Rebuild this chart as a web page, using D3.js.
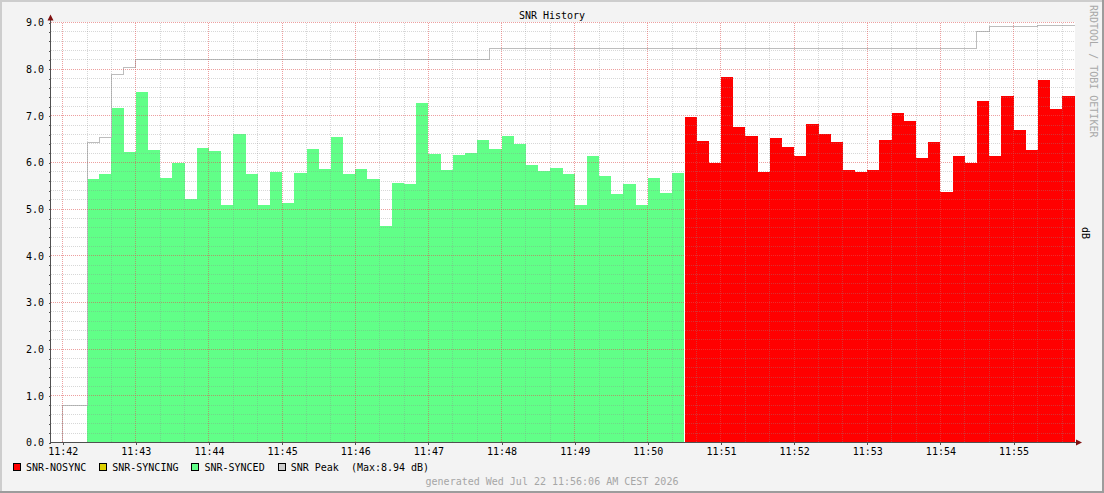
<!DOCTYPE html>
<html>
<head>
<meta charset="utf-8">
<script src="https://cdn.jsdelivr.net/npm/d3@7"></script>
<style>
  body { margin: 0; background: #f3f3f3; }
  svg { display: block; }
  text { font-family: "DejaVu Sans Mono", monospace; font-size: 10px; }
</style>
</head>
<body>
<svg id="chart" width="1104" height="493"></svg>
<script>
const day = "2026-07-22";
const viewStart = "11:41:50";
const viewEnd = "11:55:50";
const stepSeconds = 10;

const syncedStart = "11:42:20";
const syncedValues = [
  5.64, 5.75, 7.16, 6.23, 7.52, 6.26, 5.66, 5.98, 5.21, 6.32,
  6.24, 5.08, 6.62, 5.75, 5.08, 5.79, 5.14, 5.77, 6.30, 5.87,
  6.54, 5.75, 5.87, 5.64, 4.63, 5.57, 5.55, 7.27, 6.19, 5.83,
  6.17, 6.21, 6.49, 6.28, 6.56, 6.39, 5.94, 5.81, 5.89, 5.75,
  5.08, 6.15, 5.72, 5.32, 5.55, 5.10, 5.66, 5.34, 5.77
];

const nosyncStart = "11:50:30";
const nosyncValues = [
  6.97, 6.47, 5.98, 7.84, 6.77, 6.56, 5.79, 6.52, 6.34, 6.15,
  6.82, 6.62, 6.43, 5.85, 5.79, 5.85, 6.49, 7.07, 6.88, 6.09,
  6.43, 5.36, 6.15, 6.00, 7.31, 6.13, 7.43, 6.69, 6.26, 7.76,
  7.14, 7.42
];

// peak line only changes at these steps
const peakTimes = ["11:41:50", "11:42:00", "11:42:20", "11:42:30", "11:42:40", "11:42:50",
                   "11:43:00", "11:47:50", "11:54:30", "11:54:40", "11:55:20"];
const peakValues = [0, 0.8, 6.42, 6.54, 7.88, 8.03, 8.2, 8.44, 8.81, 8.91, 8.94];

const yTicks = [0, 1, 2, 3, 4, 5, 6, 7, 8, 9];
const legendLabels = ["SNR-NOSYNC", "SNR-SYNCING", "SNR-SYNCED", "SNR Peak  (Max:8.94 dB)"];

const title = "SNR History";
const yLabel = "dB";
const watermark = "RRDTOOL / TOBI OETIKER";
const footer = "generated Wed Jul 22 11:56:06 AM CEST 2026";

const colors = {
  nosync: "#ff0000",
  syncing: "#ddd000",
  synced: "#61ff88",
  peak: "#bdbdbd",
  peakBox: "#cccccc"
};
const legendColors = [colors.nosync, colors.syncing, colors.synced, colors.peakBox];

const W = 1104, H = 493;
const plotLeft = 50.5, plotRight = 1074.5, plotTop = 22.5, plotBottom = 442.5;

const t = s => new Date(day + "T" + s);

function series(start, values) {
  const t0 = t(start);
  const pts = values.map((v, i) => ({ t: d3.timeSecond.offset(t0, i * stepSeconds), v: v }));
  // closing point so the last step gets its full width
  pts.push({ t: d3.timeSecond.offset(t0, values.length * stepSeconds), v: values[values.length - 1] });
  return pts;
}

const svg = d3.select("#chart");

const x = d3.scaleTime().domain([t(viewStart), t(viewEnd)]).range([plotLeft, plotRight]);
const y = d3.scaleLinear().domain([0, 9]).range([plotBottom, plotTop]);

// background + 3d frame
svg.append("rect").attr("width", W).attr("height", H).attr("fill", "#f3f3f3");
svg.append("rect").attr("x", 0).attr("y", 0).attr("width", W).attr("height", 2).attr("fill", "#cdcdcd");
svg.append("rect").attr("x", 0).attr("y", 0).attr("width", 2).attr("height", H).attr("fill", "#cdcdcd");
svg.append("rect").attr("x", W - 2).attr("y", 0).attr("width", 2).attr("height", H).attr("fill", "#9c9c9c");
svg.append("rect").attr("x", 0).attr("y", H - 2).attr("width", W).attr("height", 2).attr("fill", "#9c9c9c");

// canvas
svg.append("rect")
    .attr("x", plotLeft).attr("y", plotTop - 0.5)
    .attr("width", plotRight - plotLeft + 0.5).attr("height", plotBottom - plotTop + 0.5)
    .attr("fill", "#ffffff");

const area = d3.area()
    .curve(d3.curveStepAfter)
    .x(d => x(d.t))
    .y0(y(0))
    .y1(d => y(d.v));

svg.append("path")
    .attr("d", area(series(syncedStart, syncedValues)))
    .attr("fill", colors.synced)
    .attr("shape-rendering", "crispEdges");

svg.append("path")
    .attr("d", area(series(nosyncStart, nosyncValues)))
    .attr("fill", colors.nosync)
    .attr("shape-rendering", "crispEdges");

// thin white seam rrdtool leaves where the two areas meet
svg.append("line")
    .attr("x1", x(t(nosyncStart))).attr("x2", x(t(nosyncStart)))
    .attr("y1", y(nosyncValues[0])).attr("y2", plotBottom)
    .attr("stroke", "#ffffff").attr("stroke-width", 1)
    .attr("shape-rendering", "crispEdges");

const peakData = peakTimes.map((s, i) => ({ t: t(s), v: peakValues[i] }));
peakData.push({ t: t(viewEnd), v: peakValues[peakValues.length - 1] });

svg.append("path")
    .attr("d", d3.line().curve(d3.curveStepAfter).x(d => x(d.t)).y(d => y(d.v))(peakData))
    .attr("fill", "none")
    .attr("stroke", colors.peak)
    .attr("stroke-width", 1)
    .attr("shape-rendering", "crispEdges");

// dotted grid on top of the areas, like rrdtool
const grid = svg.append("g").attr("shape-rendering", "crispEdges").attr("stroke-dasharray", "1,1");
const snap = v => Math.round(v - 0.5) + 0.5;
const minorColor = "rgba(140,140,140,0.35)";
const majorColor = "rgba(222,80,80,0.55)";

const minorY = d3.range(0.2, 9, 0.2).filter(v => Math.abs(v - Math.round(v)) > 0.01);
grid.selectAll(".hmin").data(minorY).enter().append("line")
    .attr("x1", plotLeft).attr("x2", plotRight)
    .attr("y1", d => snap(y(d))).attr("y2", d => snap(y(d)))
    .attr("stroke", minorColor);

const minorX = x.ticks(d3.timeSecond.every(20)).filter(d => d.getSeconds() !== 0);
grid.selectAll(".vmin").data(minorX).enter().append("line")
    .attr("x1", d => snap(x(d))).attr("x2", d => snap(x(d)))
    .attr("y1", plotTop).attr("y2", plotBottom)
    .attr("stroke", minorColor);

grid.selectAll(".hmaj").data(yTicks.slice(1)).enter().append("line")
    .attr("x1", plotLeft).attr("x2", plotRight)
    .attr("y1", d => y(d)).attr("y2", d => y(d))
    .attr("stroke", majorColor);

const majorX = x.ticks(d3.timeMinute.every(1));
grid.selectAll(".vmaj").data(majorX).enter().append("line")
    .attr("x1", d => snap(x(d))).attr("x2", d => snap(x(d)))
    .attr("y1", plotTop).attr("y2", plotBottom)
    .attr("stroke", majorColor);

// axes
const axisColor = "#505050";

const xAxis = svg.append("g")
    .attr("transform", "translate(0," + plotBottom + ")")
    .call(d3.axisBottom(x)
        .ticks(d3.timeMinute.every(1))
        .tickFormat(d3.timeFormat("%H:%M"))
        .tickSize(2)
        .tickPadding(3.5));

const yAxis = svg.append("g")
    .attr("transform", "translate(" + plotLeft + ",0)")
    .call(d3.axisLeft(y)
        .tickValues(yTicks)
        .tickFormat(d3.format(".1f"))
        .tickSize(2)
        .tickPadding(4.5));

svg.append("g")
    .attr("transform", "translate(" + plotLeft + ",0)")
    .call(d3.axisLeft(y).tickValues(minorY).tickFormat("").tickSize(2))
    .call(g => g.select(".domain").remove());

[xAxis, yAxis].forEach(g => {
  g.select(".domain").remove();
  g.attr("font-family", null).attr("font-size", null);
  g.selectAll("text").attr("fill", "#000");
});
svg.selectAll(".tick line").attr("stroke", axisColor).attr("shape-rendering", "crispEdges");

svg.append("line")
    .attr("x1", plotLeft).attr("x2", plotLeft).attr("y1", plotBottom + 0.5).attr("y2", 19)
    .attr("stroke", axisColor).attr("shape-rendering", "crispEdges");
svg.append("line")
    .attr("x1", plotLeft - 0.5).attr("x2", plotRight + 4).attr("y1", plotBottom).attr("y2", plotBottom)
    .attr("stroke", axisColor).attr("shape-rendering", "crispEdges");

svg.append("path")
    .attr("d", `M${plotLeft},14.5 L${plotLeft + 3},20.5 L${plotLeft - 3},20.5 Z`)
    .attr("fill", "#7f1010");
svg.append("path")
    .attr("d", `M${plotRight + 7.5},${plotBottom} L${plotRight + 1.5},${plotBottom - 3} L${plotRight + 1.5},${plotBottom + 3} Z`)
    .attr("fill", "#7f1010");

// texts
svg.append("text")
    .attr("x", W / 2).attr("y", 19)
    .attr("text-anchor", "middle")
    .text(title);

svg.append("text")
    .attr("transform", "translate(1082,227) rotate(90)")
    .text(yLabel);

svg.append("text")
    .attr("transform", "translate(1089.5,5) rotate(90)")
    .attr("fill", "#a8a8a8")
    .text(watermark);

svg.append("text")
    .attr("x", W / 2).attr("y", 485)
    .attr("text-anchor", "middle")
    .attr("fill", "#a6a6a6")
    .text(footer);

// legend, laid out left to right
let lx = 13.5;
legendLabels.forEach((label, i) => {
  svg.append("rect")
      .attr("x", lx).attr("y", 463.5)
      .attr("width", 7).attr("height", 7)
      .attr("fill", legendColors[i])
      .attr("stroke", "#000")
      .attr("shape-rendering", "crispEdges");
  const txt = svg.append("text")
      .attr("x", lx + 12.5).attr("y", 471)
      .style("white-space", "pre")
      .text(label);
  lx = lx + 12.5 + txt.node().getComputedTextLength() + 13.5;
});
</script>
</body>
</html>
